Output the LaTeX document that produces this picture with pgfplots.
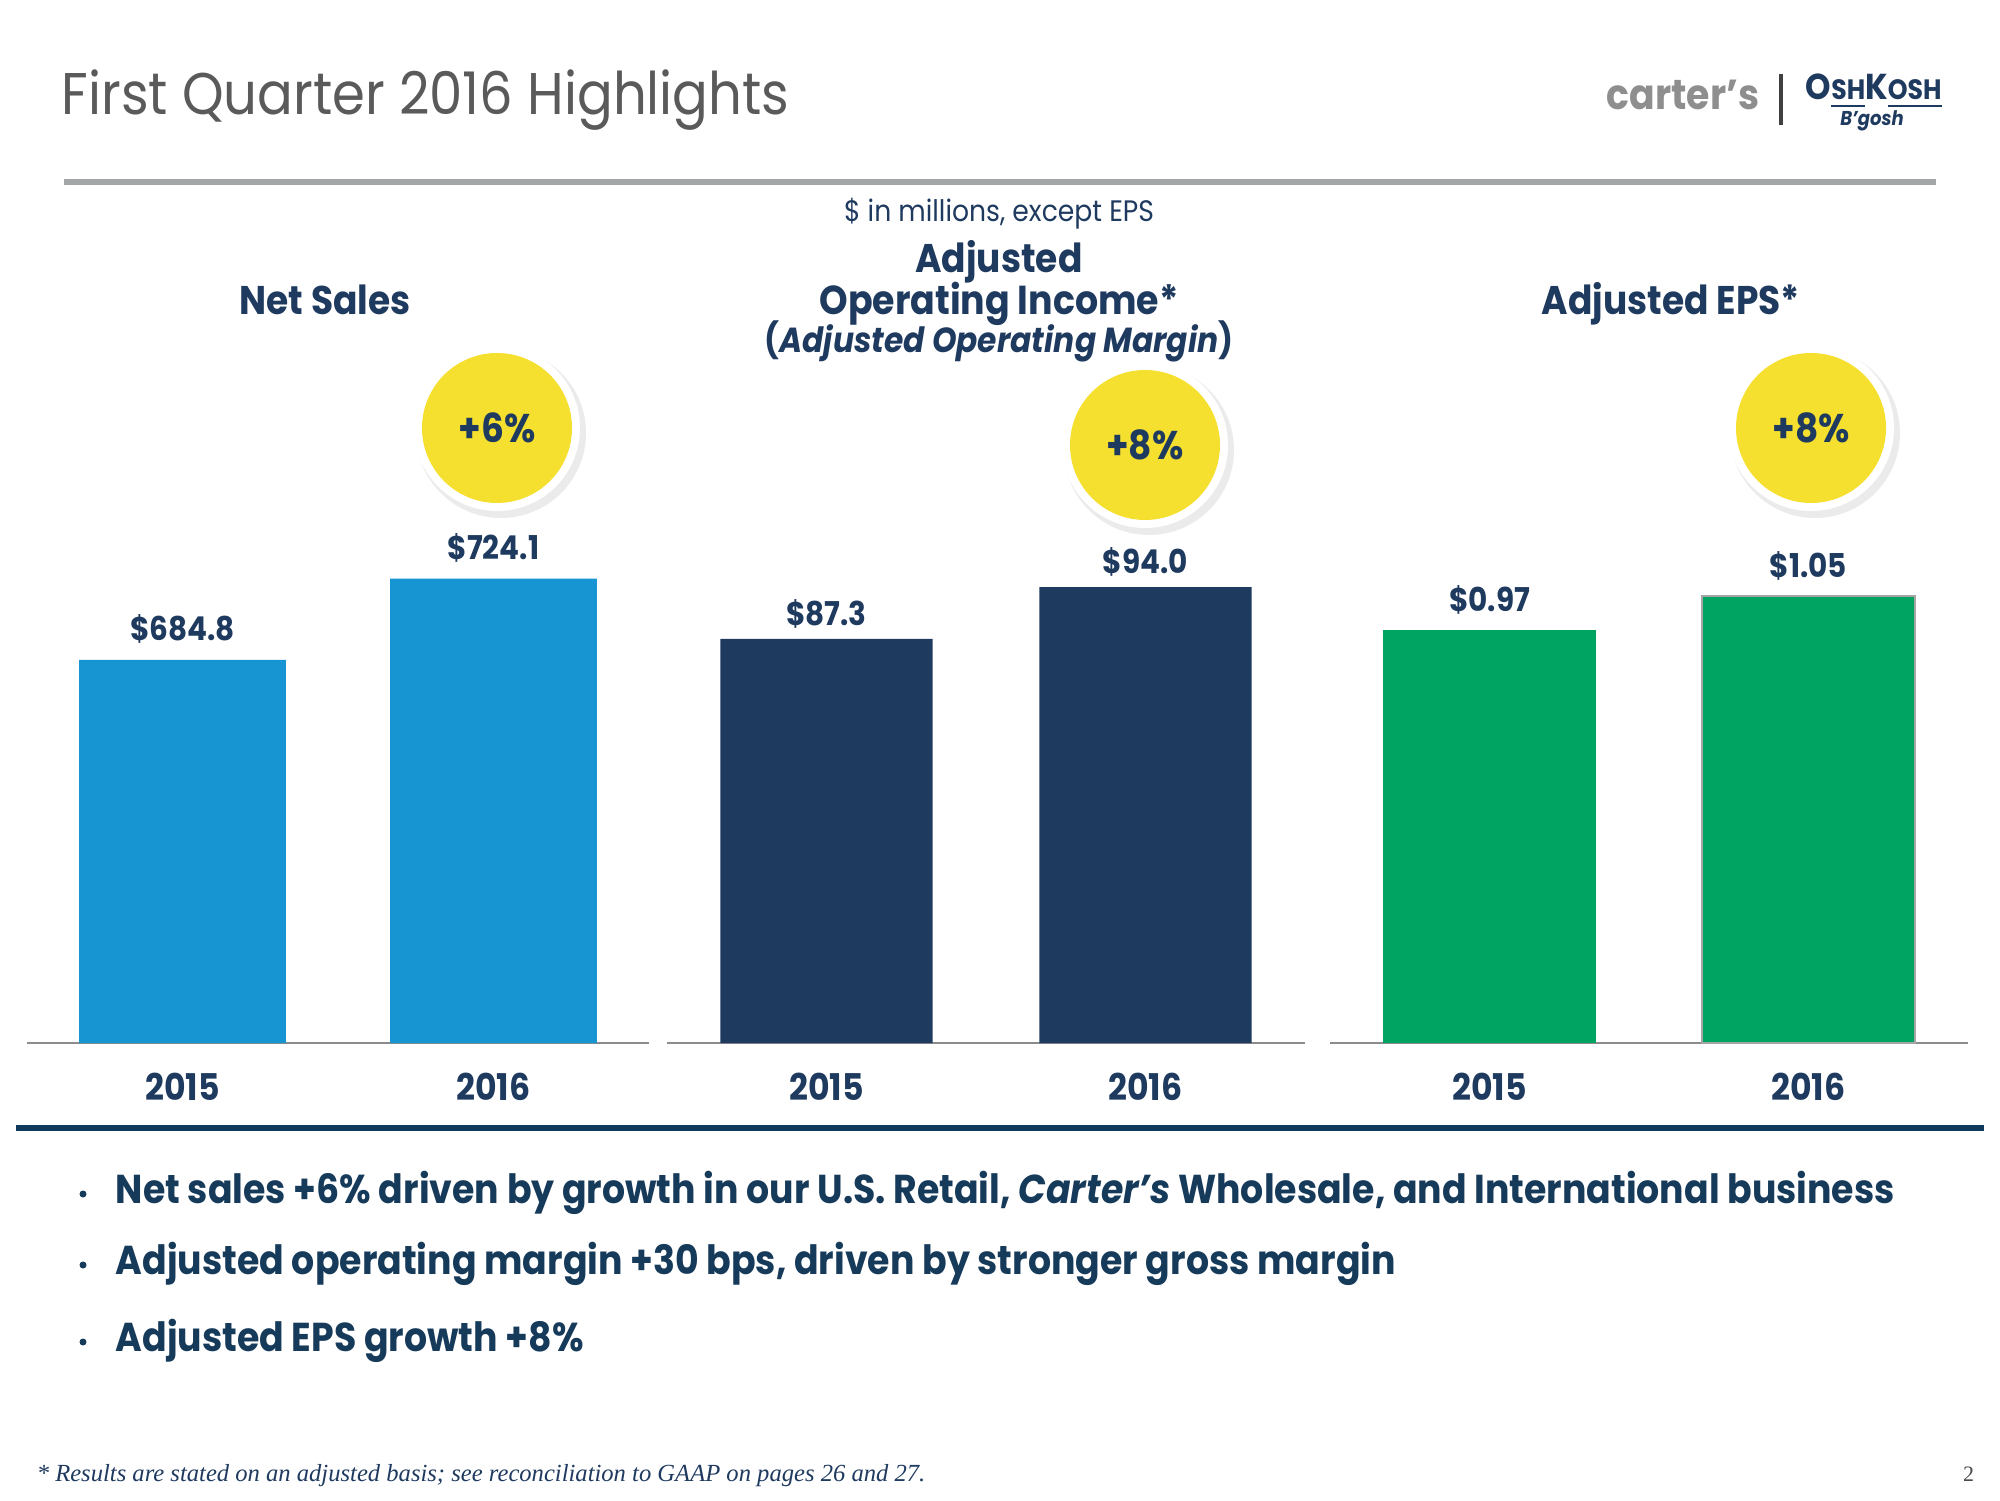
\documentclass[border=0pt]{standalone}
\usepackage{pgfplots}
\pgfplotsset{compat=1.18}
\usepackage{fontspec}
\setmainfont{Poppins}[FakeStretch=0.9]
\newfontfamily\arialb{Liberation Sans}[LetterSpace=12]
\newfontfamily\serif{Liberation Serif}
\definecolor{navy}{HTML}{1F3A5F}
\definecolor{dnavy}{HTML}{163A5A}
\definecolor{rulenavy}{HTML}{0E3A5B}
\definecolor{barblue}{HTML}{1795D3}
\definecolor{barnavy}{HTML}{1E3A5F}
\definecolor{bargreen}{HTML}{00A462}
\definecolor{circyellow}{HTML}{F6E02F}
\definecolor{rulegrey}{HTML}{A3A6A6}
\definecolor{axgrey}{HTML}{8C8C8C}
\definecolor{titlegrey}{HTML}{5A5A5A}
\definecolor{logogrey}{HTML}{8E8E8E}
\pgfplotsset{panel/.style={scale only axis, anchor=south west, height=175pt,
  xmin=-0.5, xmax=1.5, axis y line=none, axis x line*=bottom,
  x axis line style={draw=axgrey, line width=0.5pt, -},
  xtick={0,1}, xticklabels={2015,2016}, major tick length=0pt,
  xticklabel style={font=\fontsize{9.2}{10}\selectfont\bfseries, text=navy, anchor=center, inner sep=0pt, yshift=-11pt},
  ybar, bar width=0.665, bar shift=0pt,
  every node near coord/.append style={anchor=base, yshift=4.75pt, inner sep=0pt, font=\fontsize{8.2}{10}\selectfont\bfseries, text=navy},
  /pgf/number format/assume math mode=true}}
\begin{document}
\begin{tikzpicture}
\begin{scope}[x=0.25pt,y=-0.25pt,shift={(0pt,375pt)}]
\path[use as bounding box] (0,0) rectangle (2000,1500);
% title
\node[anchor=base west, inner sep=0pt, text=titlegrey, font=\fontsize{14.7}{18}\selectfont] at (61,115) {First Quarter 2016 Highlights};
% logo
\node[anchor=base east, inner sep=0pt, text=logogrey, font=\fontsize{10.5}{12}\selectfont\bfseries] at (1760,110) {carter’s};
\draw[line width=0.8pt, black!75] (1781,74) -- (1781,125);
\node[anchor=base west, inner sep=0pt, text=navy, font=\fontsize{9}{10}\selectfont\bfseries] at (1805,100) {O\underline{\fontsize{7}{8}\selectfont SH}K\underline{\fontsize{7}{8}\selectfont OSH}};
\node[anchor=base, inner sep=0pt, text=navy, font=\fontsize{5}{6}\selectfont\bfseries\itshape] at (1872,126) {B’gosh};
% grey rule
\draw[line width=1.5pt, rulegrey] (64,182) -- (1936,182);
% headers
\node[anchor=base, inner sep=0pt, text=navy, font=\fontsize{7.4}{8}\selectfont] at (999,222) {\$ in millions, except EPS};
\node[anchor=base, inner sep=0pt, text=navy, font=\fontsize{10}{12}\selectfont\bfseries] at (999,273) {Adjusted};
\node[anchor=base, inner sep=0pt, text=navy, font=\fontsize{10.1}{12}\selectfont\bfseries] at (999,315) {Operating Income*};
\node[anchor=base, inner sep=0pt, text=navy, font=\fontsize{8.7}{10}\selectfont\bfseries] at (999,353) {(\textit{Adjusted Operating Margin})};
\node[anchor=base, inner sep=0pt, text=navy, font=\fontsize{10}{12}\selectfont\bfseries] at (325,315) {Net Sales};
\node[anchor=base, inner sep=0pt, text=navy, font=\fontsize{10}{12}\selectfont\bfseries] at (1671,315) {Adjusted EPS*};
% circles
\foreach \cx/\cy/\t in {497/428/+6\%, 1145/445/+8\%, 1811/428/+8\%}{
  \fill[black, opacity=0.08] (\cx+4,\cy+5) circle (85);
  \fill[white] (\cx,\cy) circle (83);
  \fill[circyellow] (\cx,\cy) circle (75);
  \node[inner sep=0pt, text=navy, font=\fontsize{10}{11}\selectfont\bfseries] at (\cx,\cy) {\t};
}
% margin text inside bars
\foreach \cx/\t in {827/12.7\%, 1145/13.0\%}{
  \node[inner sep=0pt, text=white, font=\arialb\fontsize{7.5}{9}\selectfont\bfseries] at (\cx,788) {\t};
  \node[inner sep=0pt, text=white, font=\arialb\fontsize{7.5}{9}\selectfont\bfseries] at (\cx,828) {of};
  \node[inner sep=0pt, text=white, font=\arialb\fontsize{7.5}{9}\selectfont\bfseries] at (\cx,867) {Net Sales};
}
% navy rule
\draw[line width=1.4pt, rulenavy] (16,1128) -- (1984,1128);
% bullets
\foreach \y/\t in {1203/{Net sales +6\% driven by growth in our U.S. Retail, \textit{Carter’s} Wholesale, and International business},
                   1274/{Adjusted operating margin +30 bps, driven by stronger gross margin},
                   1351/{Adjusted EPS growth +8\%}}{
  \fill[dnavy] (83,\y-9) circle (3.5);
  \node[anchor=base west, inner sep=0pt, text=dnavy, font=\fontsize{10.08}{12}\selectfont\bfseries] at (115,\y) {\t};
}
% footnote
\node[anchor=base west, inner sep=0pt, text=navy, font=\serif\fontsize{6.15}{7}\selectfont\itshape] at (36,1481) {* Results are stated on an adjusted basis; see reconciliation to GAAP on pages 26 and 27.};
\node[anchor=base east, inner sep=0pt, text=black!70, font=\serif\fontsize{5.5}{6}\selectfont] at (1975,1481) {2};
\end{scope}
% panel 1: Net Sales
\begin{axis}[panel, at={(6.75pt,114.25pt)}, width=155.5pt, ymin=500, ymax=837.76,
  nodes near coords={\$\pgfmathprintnumber[fixed,fixed zerofill,precision=1]{\pgfplotspointmeta}}]
\addplot[fill=barblue, draw=none] coordinates {(0,684.8) (1,724.1)};
\end{axis}
% panel 2: Adjusted Operating Income
\begin{axis}[panel, at={(166.75pt,114.25pt)}, width=159.5pt, ymin=35, ymax=125.61,
  every node near coord/.append style={yshift=-1.4pt},
  nodes near coords={\$\pgfmathprintnumber[fixed,fixed zerofill,precision=1]{\pgfplotspointmeta}}]
\addplot[fill=barnavy, draw=none] coordinates {(0,87.3) (1,94.0)};
\end{axis}
% panel 3: Adjusted EPS
\begin{axis}[panel, at={(332.5pt,114.25pt)}, width=159.5pt, ymin=0, ymax=1.6444,
  nodes near coords={\$\pgfmathprintnumber[fixed,fixed zerofill,precision=2]{\pgfplotspointmeta}}]
\addplot[fill=bargreen, draw=none] coordinates {(0,0.97)};
\addplot[fill=bargreen, draw=black!35, line width=0.5pt] coordinates {(1,1.05)};
\end{axis}
\end{tikzpicture}
\end{document}
